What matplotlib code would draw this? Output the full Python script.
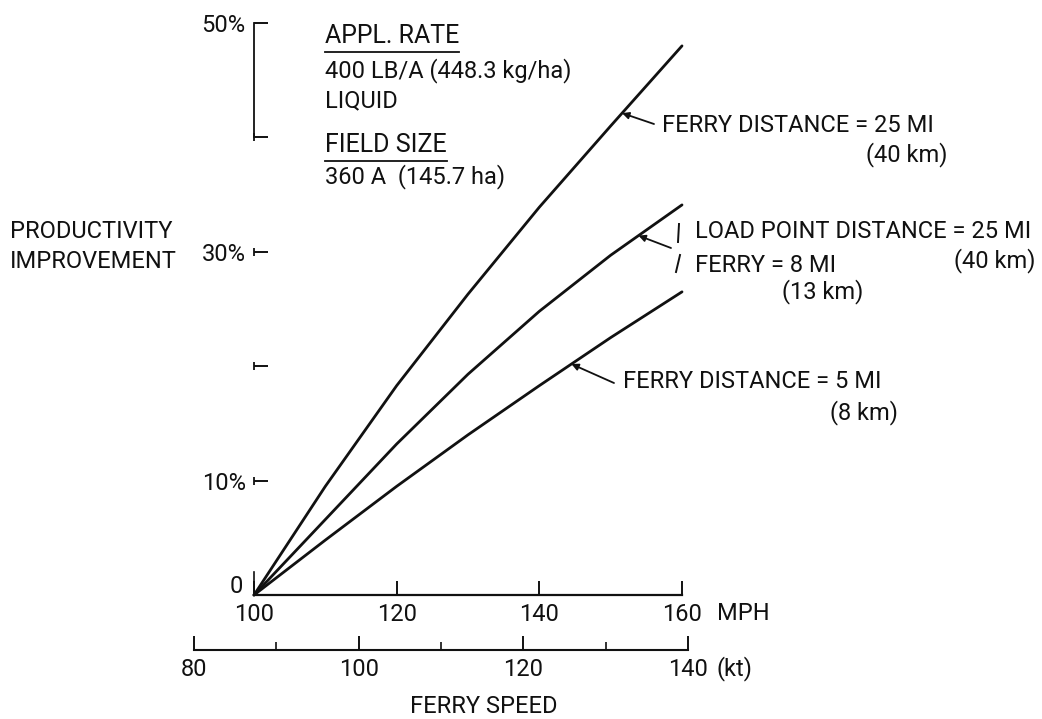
import matplotlib
matplotlib.use("Agg")
import matplotlib.pyplot as plt
from matplotlib.lines import Line2D
import numpy as np

# Ferry speed (mph) and productivity improvement (%) for each case
mph = [100, 110, 120, 130, 140, 150, 160]
ferry_25 = [0, 9.5, 18.3, 26.3, 33.9, 41.0, 48.0]
load_25_ferry_8 = [0, 6.6, 13.2, 19.3, 24.8, 29.7, 34.1]
ferry_5 = [0, 4.8, 9.5, 14.0, 18.3, 22.5, 26.5]

mph_ticks = [100, 120, 140, 160]
kt_ticks = [80, 100, 120, 140]
kt_minor = [90, 110, 130]
pct_ticks = [0, 10, 20, 30, 40, 50]
pct_labels = ["", "10%", "", "30%", "", "50%"]

plt.rcParams["font.family"] = ["Roboto", "DejaVu Sans"]
plt.rcParams["text.color"] = "#111111"

W, H = 1042, 719
fig = plt.figure(figsize=(W / 100, H / 100), dpi=100)
fig.patch.set_facecolor("white")


def fp(x, y):
    """pixel position (from top-left) -> figure fraction"""
    return x / W, 1 - y / H


ink = "#111111"
FS = 17      # lettering
NFS = 17     # scale numbers

# ---- main axes ----
ax = fig.add_axes([254 / W, 1 - 595 / H, 428 / W, 572 / H])
ax.set_xlim(100, 160)
ax.set_ylim(0, 50)
ax.patch.set_alpha(0)
for s in ("top", "right"):
    ax.spines[s].set_visible(False)
ax.spines["left"].set_bounds(40, 50)
ax.spines["left"].set_linewidth(1.3)
ax.spines["bottom"].set_linewidth(1.6)
ax.spines["left"].set_color(ink)
ax.spines["bottom"].set_color(ink)

ax.set_xticks(mph_ticks)
ax.set_xticklabels([str(v) for v in mph_ticks])
ax.set_yticks(pct_ticks)
ax.set_yticklabels(pct_labels)
ax.tick_params(axis="both", direction="in", length=10, width=1.4, colors=ink,
               labelsize=NFS)
ax.tick_params(axis="x", pad=6)
ax.tick_params(axis="y", pad=6)
# small vertical bars on the tick marks and a short stub at the origin
ax.plot([100] * 4, [10, 20, 30, 40], ls="none", marker="|", ms=6, mew=1.3,
        color=ink, clip_on=False)
ax.plot([100, 100], [0, 2.0], color=ink, lw=1.2, clip_on=False)
ax.annotate("0", xy=(100, 0), xycoords="data", xytext=(-8, 6),
            textcoords="offset points", ha="right", va="center", fontsize=NFS,
            annotation_clip=False)

for ys in (ferry_25, load_25_ferry_8, ferry_5):
    ax.plot(mph, ys, color=ink, lw=2.0, solid_capstyle="round", clip_on=False)

ax.annotate("MPH", xy=(164.9, 0), xycoords="data", xytext=(0, -13),
            textcoords="offset points", ha="left", va="center", fontsize=FS,
            annotation_clip=False)

# ---- knot scale ----
axk = fig.add_axes([194 / W, 1 - 650 / H, 494 / W, 0.0001])
axk.set_xlim(80, 140)
axk.patch.set_alpha(0)
for s in ("top", "right", "left"):
    axk.spines[s].set_visible(False)
axk.spines["bottom"].set_linewidth(1.5)
axk.spines["bottom"].set_color(ink)
axk.set_yticks([])
axk.set_xticks(kt_ticks)
axk.set_xticklabels([str(v) for v in kt_ticks])
axk.set_xticks(kt_minor, minor=True)
axk.tick_params(axis="x", which="major", direction="in", length=10, width=1.4,
                colors=ink, labelsize=NFS, pad=6)
axk.tick_params(axis="x", which="minor", direction="in", length=6, width=1.2,
                colors=ink)
axk.annotate("(kt)", xy=(143.5, 0), xycoords=("data", "axes fraction"),
             xytext=(0, -13), textcoords="offset points", ha="left",
             va="center", fontsize=FS, annotation_clip=False)
axk.annotate("FERRY SPEED", xy=(115.2, 0), xycoords=("data", "axes fraction"),
             xytext=(0, -41), textcoords="offset points", ha="center",
             va="center", fontsize=FS, annotation_clip=False)

# ---- axis title ----
fig.text(*fp(10, 232), "PRODUCTIVITY", fontsize=FS, ha="left", va="center")
fig.text(*fp(10, 262), "IMPROVEMENT", fontsize=FS, ha="left", va="center")

# ---- conditions block ----
renderer = fig.canvas.get_renderer()


def underlined(x, y, s):
    t = fig.text(*fp(x, y), s, fontsize=FS + 1, ha="left", va="center")
    bb = t.get_window_extent(renderer=renderer)
    yline = 1 - (y + 16) / H
    fig.add_artist(Line2D([bb.x0 / W, bb.x1 / W], [yline, yline],
                          transform=fig.transFigure, color=ink, lw=1.3))


underlined(325, 36, "APPL. RATE")
fig.text(*fp(325, 71), "400 LB/A (448.3 kg/ha)", fontsize=FS, ha="left", va="center")
fig.text(*fp(325, 101), "LIQUID", fontsize=FS, ha="left", va="center")
underlined(325, 145, "FIELD SIZE")
fig.text(*fp(325, 177), "360 A  (145.7 ha)", fontsize=FS, ha="left", va="center")

# ---- curve labels ----
arrow = dict(arrowstyle="-|>", color=ink, lw=1.3, mutation_scale=10,
             shrinkA=0, shrinkB=0)


def label_curve(x_at, ys, tail_px):
    ax.annotate("", xy=(x_at, np.interp(x_at, mph, ys)), xycoords="data",
                xytext=fp(*tail_px), textcoords="figure fraction",
                arrowprops=arrow)


fig.text(*fp(662, 125), "FERRY DISTANCE = 25 MI", fontsize=FS, ha="left", va="center")
fig.text(*fp(866, 155), "(40 km)", fontsize=FS, ha="left", va="center")
label_curve(151.6, ferry_25, (654, 124))

fig.text(*fp(695, 232), "LOAD POINT DISTANCE = 25 MI", fontsize=FS, ha="left", va="center")
fig.text(*fp(1036, 261), "(40 km)", fontsize=FS, ha="right", va="center")
fig.text(*fp(695, 265), "FERRY = 8 MI", fontsize=FS, ha="left", va="center")
fig.text(*fp(782, 292), "(13 km)", fontsize=FS, ha="left", va="center")
for (x0, y0), (x1, y1) in (((679, 224), (678, 242)), ((680, 255), (676, 272))):
    fig.add_artist(Line2D([x0 / W, x1 / W], [1 - y0 / H, 1 - y1 / H],
                          transform=fig.transFigure, color=ink, lw=1.4))
label_curve(153.9, load_25_ferry_8, (671, 248))

fig.text(*fp(623, 382), "FERRY DISTANCE = 5 MI", fontsize=FS, ha="left", va="center")
fig.text(*fp(830, 413), "(8 km)", fontsize=FS, ha="left", va="center")
label_curve(144.5, ferry_5, (614, 383))

fig.savefig("out.png", dpi=100, facecolor="white")
